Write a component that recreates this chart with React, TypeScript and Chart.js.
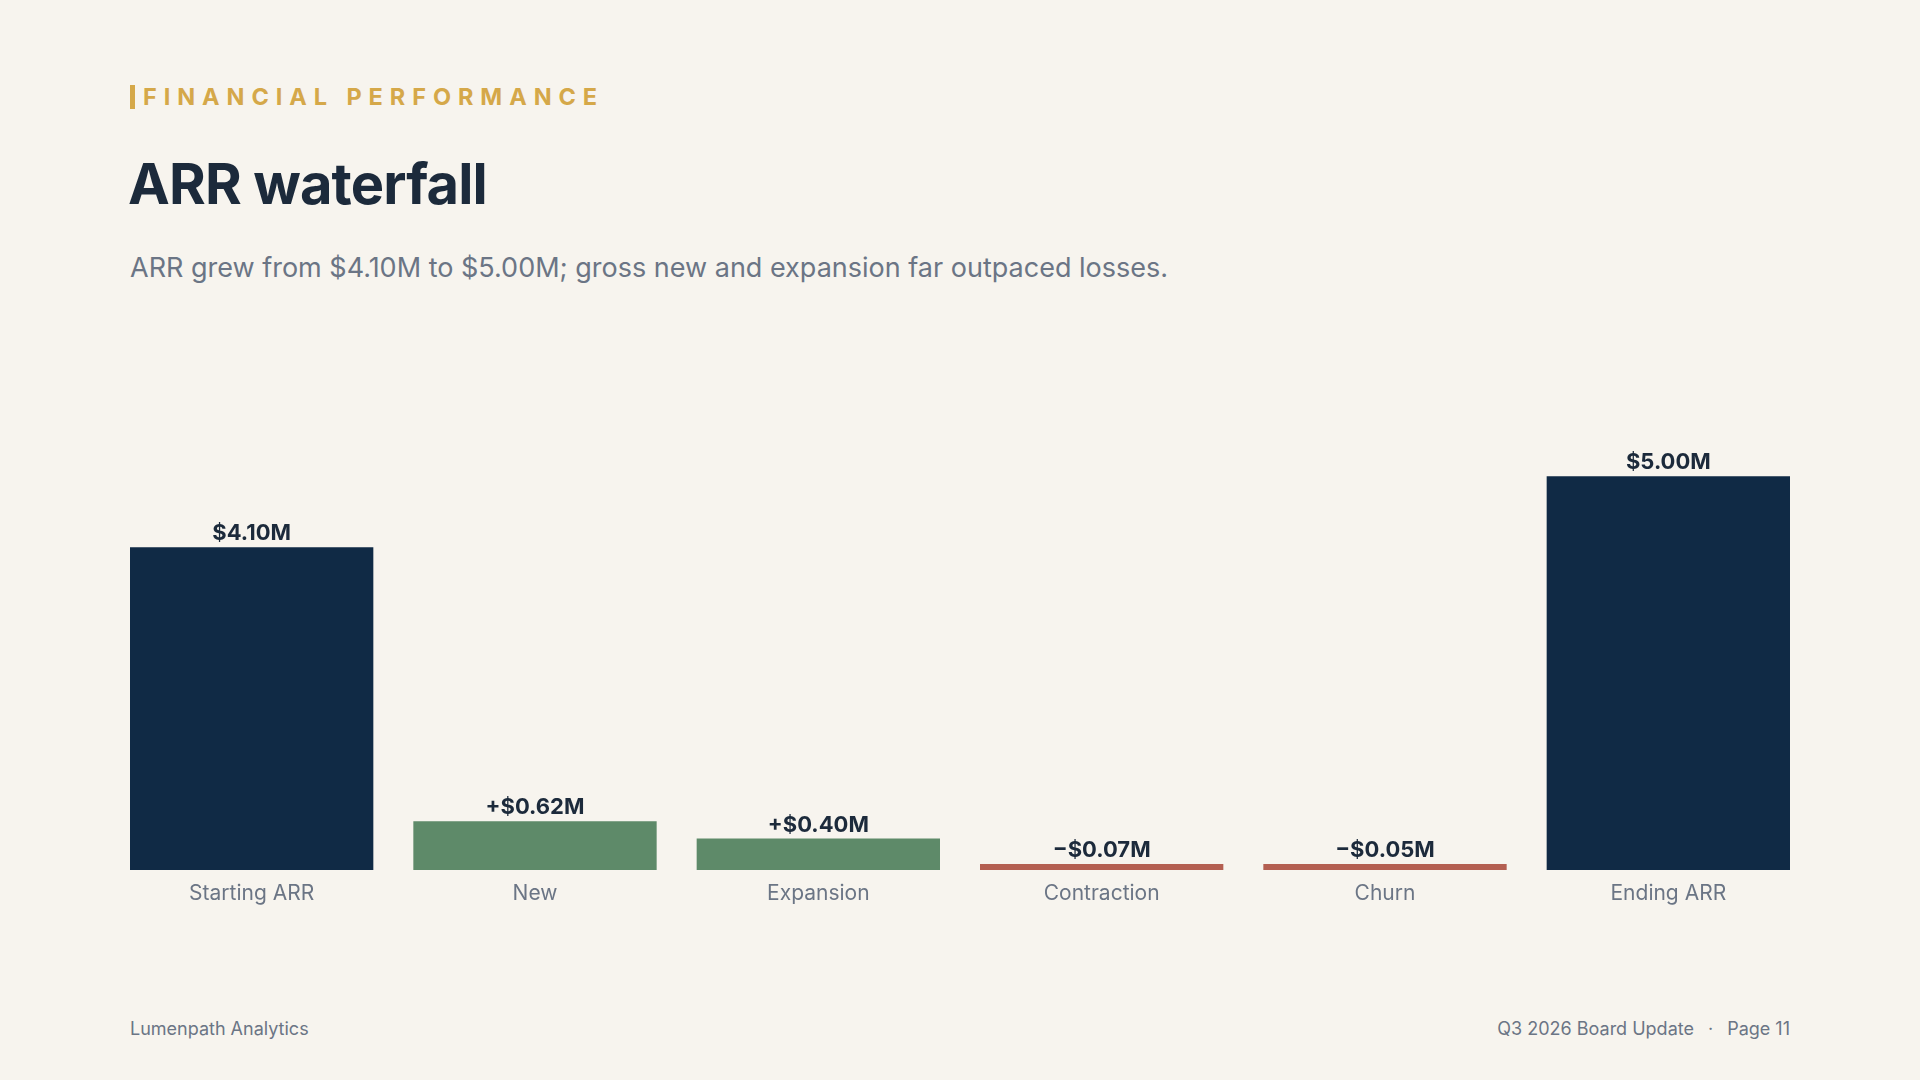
import React, { useEffect, useRef } from "react";
import { Chart, registerables } from "chart.js";

Chart.register(...registerables);

// ARR bridge, in $M
const categories = ["Starting ARR", "New", "Expansion", "Contraction", "Churn", "Ending ARR"];
const changes = [4.1, 0.62, 0.4, -0.07, -0.05, 5.0];
const kinds = ["total", "delta", "delta", "delta", "delta", "total"];
const yMax = 5.5;

const NAVY = "#102a45";
const GREEN = "#5e8a69";
const RED = "#b45f51";
const INK = "#1c2a3b";
const MUTED = "#6b7585";
const BG = "#f7f4ee";
const GOLD = "#d5a849";

const FONT = "Inter, 'Noto Sans', sans-serif";

function formatValue(v: number, kind: string): string {
  const body = `$${Math.abs(v).toFixed(2)}M`;
  if (kind === "total") return body;
  return v >= 0 ? `+${body}` : `\u2212${body}`;
}

const valueLabels = {
  id: "valueLabels",
  afterDatasetsDraw(chart: any) {
    const ctx = chart.ctx;
    const meta = chart.getDatasetMeta(0);
    ctx.save();
    ctx.font = `700 22px ${FONT}`;
    ctx.fillStyle = INK;
    ctx.textAlign = "center";
    ctx.textBaseline = "alphabetic";
    meta.data.forEach((bar: any, i: number) => {
      ctx.fillText(formatValue(changes[i], kinds[i]), bar.x, bar.y - 7);
    });
    ctx.restore();
  },
};

function WaterfallChart() {
  const ref = useRef<HTMLCanvasElement | null>(null);

  useEffect(() => {
    if (!ref.current) return;
    const colors = changes.map((v, i) =>
      kinds[i] === "total" ? NAVY : v >= 0 ? GREEN : RED
    );
    const chart = new Chart(ref.current, {
      type: "bar",
      data: {
        labels: categories,
        datasets: [
          {
            data: changes.map((v) => Math.abs(v)),
            backgroundColor: colors,
            borderWidth: 0,
            minBarLength: 6,
            barPercentage: 0.8588,
            categoryPercentage: 1,
          },
        ],
      },
      options: {
        animation: false,
        responsive: true,
        maintainAspectRatio: false,
        layout: { padding: 0 },
        plugins: {
          legend: { display: false },
          tooltip: { enabled: false },
          title: { display: false },
        },
        scales: {
          y: { display: false, min: 0, max: yMax },
          x: {
            grid: { display: false },
            border: { display: false },
            ticks: {
              color: MUTED,
              font: { family: FONT, size: 21 },
              padding: 3,
              maxRotation: 0,
            },
            afterFit: (scale: any) => {
              scale.height = 40;
            },
          },
        },
      },
      plugins: [valueLabels],
    });
    return () => chart.destroy();
  }, []);

  return (
    <div style={{ position: "absolute", left: 110, top: 437, width: 1700, height: 473 }}>
      <canvas ref={ref} />
    </div>
  );
}

export default function App() {
  useEffect(() => {
    document.body.style.margin = "0";
  }, []);

  return (
    <div
      style={{
        position: "fixed",
        left: 0,
        top: 0,
        width: 1920,
        height: 1080,
        background: BG,
        fontFamily: FONT,
        overflow: "hidden",
      }}
    >
      <div
        style={{
          position: "absolute",
          left: 130,
          top: 84,
          display: "flex",
          alignItems: "center",
          height: 26,
        }}
      >
        <div style={{ width: 5, height: 24, background: GOLD, marginRight: 8 }} />
        <span
          style={{
            color: GOLD,
            fontWeight: 700,
            fontSize: 23.5,
            letterSpacing: "0.295em",
            lineHeight: "26px",
          }}
        >
          FINANCIAL PERFORMANCE
        </span>
      </div>
      <div
        style={{
          position: "absolute",
          left: 128,
          top: 150,
          color: INK,
          fontWeight: 700,
          fontSize: 56,
          letterSpacing: "-0.015em",
          lineHeight: "68px",
        }}
      >
        ARR waterfall
      </div>
      <div
        style={{
          position: "absolute",
          left: 130,
          top: 251,
          color: MUTED,
          fontSize: 27,
          lineHeight: "34px",
        }}
      >
        ARR grew from $4.10M to $5.00M; gross new and expansion far outpaced losses.
      </div>
      <WaterfallChart />
      <div
        style={{
          position: "absolute",
          left: 130,
          top: 1017,
          color: MUTED,
          fontSize: 18,
          lineHeight: "24px",
        }}
      >
        Lumenpath Analytics
      </div>
      <div
        style={{
          position: "absolute",
          right: 130,
          top: 1017,
          color: MUTED,
          fontSize: 18,
          lineHeight: "24px",
          whiteSpace: "nowrap",
        }}
      >
        Q3 2026 Board Update
        <span style={{ margin: "0 14px" }}>·</span>
        Page 11
      </div>
    </div>
  );
}
